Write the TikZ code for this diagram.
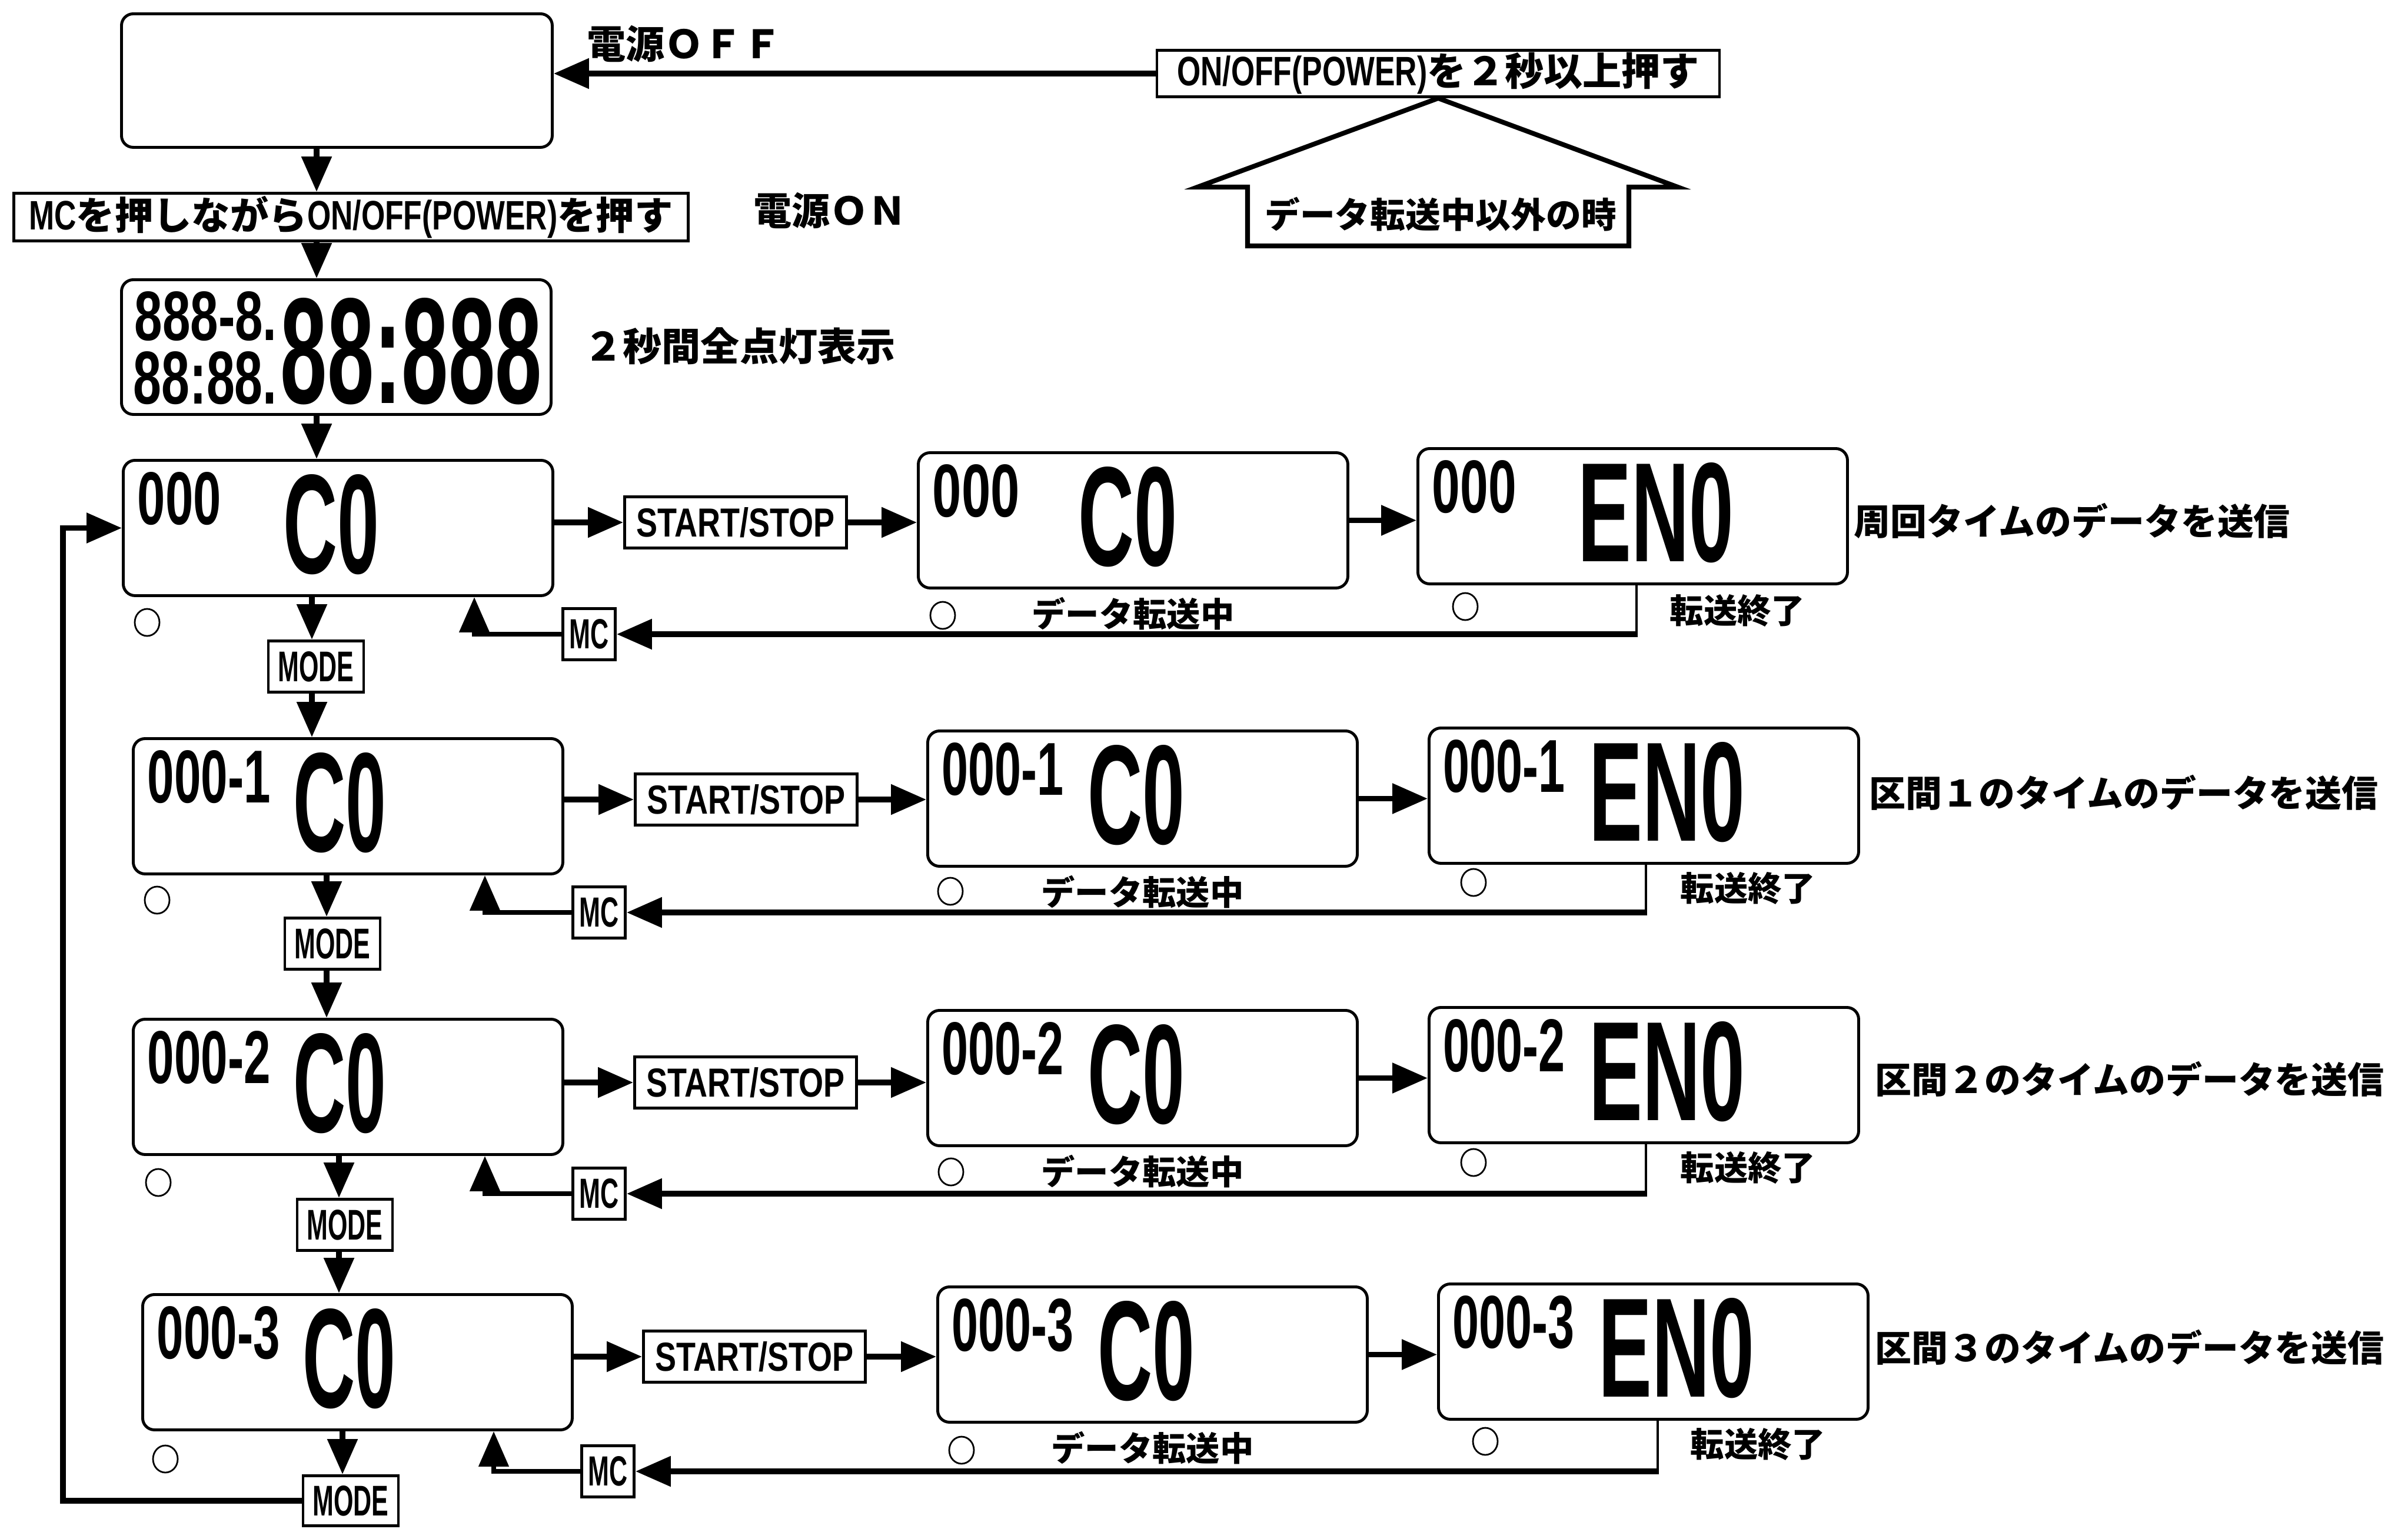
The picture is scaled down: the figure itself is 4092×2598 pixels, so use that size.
\documentclass[tikz,border=0pt]{standalone}
\usepackage{fontspec}
\usepackage{graphicx}
\usetikzlibrary{arrows.meta,shapes.geometric}
\setmainfont{Noto Sans CJK JP}
\newfontfamily\jpf{Noto Sans CJK JP}
\newfontfamily\latinf{Liberation Sans}
\newfontfamily\lcdfont{Liberation Sans}
\newcommand\hwl[1]{{\latinf\bfseries\fontsize{19.9pt}{20pt}\selectfont\scalebox{0.74}[1]{#1}}}
\newcommand\lcdtxt[3]{\resizebox{#1mm}{#2mm}{\lcdfont\bfseries #3}}
\newcommand\keytxt[3]{\resizebox{#1mm}{#2mm}{\latinf\bfseries #3}}
\newcommand\lcdfill[5]{%
  \node[anchor=north west, inner sep=0pt] (#1s) at ([shift={(26,22)}]#1.north west) {\lcdtxt{#3}{8.9}{#2}};
  \node[anchor=north west, inner sep=0pt] (#1g) at ([shift={(274,26)}]#1.north west) {\lcdtxt{#5}{16.8}{#4}};
}
\begin{document}
\begin{tikzpicture}[x=0.1mm,y=-0.1mm,
  lcdbox/.style={draw, line width=1.4pt, rounded corners=2mm, minimum width=73mm, minimum height=23mm, inner sep=0pt, anchor=north west},
  keybox/.style={draw, line width=1.4pt, inner sep=0pt},
  ssbox/.style={keybox, minimum width=37.7mm, minimum height=8.7mm},
  mcbox/.style={keybox, minimum width=8.9mm, minimum height=8.7mm},
  modebox/.style={keybox, minimum width=16.2mm, minimum height=8.7mm},
  lbl/.style={inner sep=0pt, font=\jpf\bfseries\fontsize{#1}{#1}\selectfont},
  lbl/.default=18pt,
  arr/.style={line width=2.6pt, -{Triangle[length=6mm,width=5mm]}},
  upl/.style={line width=2.3pt, -{Triangle[length=6mm,width=5mm]}},
  dropl/.style={line width=1.3pt},
  led/.style={draw, ellipse, line width=0.8pt, minimum width=4.2mm, minimum height=4.6mm, inner sep=0pt},
  house/.style={line width=2.3pt, line join=miter}
]
\fill[white] (0,0) rectangle (4092,2598);
\useasboundingbox (0,0) rectangle (4092,2598);

% ---------- top part ----------
\node[lcdbox, minimum width=73.2mm, minimum height=22.7mm] (poff) at (204,21) {};
\node[lbl=18.8pt, anchor=west] (toff) at (997,75) {電源ＯＦＦ};
\node[keybox, minimum width=95.6mm, minimum height=7.9mm, font=\jpf\bfseries\fontsize{18.8pt}{18.8pt}\selectfont] (onoff) at (2444,125) {\hwl{ON/OFF(POWER)}を２秒以上押す};
\draw[arr] (onoff.west) -- (onoff.west -| poff.east);
\draw[house] (onoff.south) -- ++(-409,151) -- ++(85,0) -- ++(0,100) -- ++(648,0) -- ++(0,-100) -- ++(83,0) -- cycle;
\node[lbl=17pt] (hlab) at (2448,364) {データ転送中以外の時};

\node[keybox, anchor=north west, minimum width=114.6mm, minimum height=8.1mm, font=\jpf\bfseries\fontsize{18.6pt}{18.6pt}\selectfont] (mcp) at (21,326) {\hwl{MC}を押しながら\hwl{ON/OFF(POWER)}を押す};
\node[lbl=18.5pt, anchor=west] (ton) at (1280,358) {電源ＯＮ};

\node[lcdbox, minimum height=22.9mm] (disp) at (204,473) {};
\node[anchor=north west, inner sep=0pt] (disp1) at (228,495) {\lcdtxt{24.2}{8.3}{888-8.}};
\node[anchor=north west, inner sep=0pt] (disp2) at (226,597) {\lcdtxt{24.4}{8.9}{88:88.}};
\node[anchor=north west, inner sep=0pt] (disp3) at (476,506) {\lcdtxt{44.4}{17.9}{88:888}};
\node[lbl=18.8pt, anchor=west] (t2s) at (992,588) {２秒間全点灯表示};

% ---------- row 1 ----------
\node[lcdbox] (r1b1) at (207,780) {};
\lcdfill{r1b1}{000}{14.2}{C0}{16.3}
\node[ssbox] (r1ss) at (1250,888) {\keytxt{33.7}{5.0}{START/STOP}};
\node[lcdbox] (r1b2) at (1558,767) {};
\lcdfill{r1b2}{000}{14.8}{C0}{16.8}
\node[lcdbox] (r1b3) at (2407,760) {};
\lcdfill{r1b3}{000}{14.3}{EN0}{26.5}
\node[mcbox] (r1mc) at (1001,1078) {\keytxt{6.7}{5.0}{MC}};
\node[modebox] (r1mode) at (537,1133) {\keytxt{12.9}{5.1}{MODE}};
\node[led] (r1l1) at (250,1058) {};
\node[led] (r1l2) at (1602,1046) {};
\node[led] (r1l3) at (2490,1031) {};
\node[lbl=16.3pt, anchor=north] (r1t2) at ([yshift=-1.3mm]r1b2.south) {データ転送中};
\node[lbl=16.3pt, anchor=north west] (r1t3) at (2837,1010) {転送終了};
\node[lbl=17.6pt, anchor=west] (r1t) at (3150,885) {周回タイムのデータを送信};
\coordinate (r1x) at (530,0);
\coordinate (r1ret) at (2781,1078);
\coordinate (r1up) at (806,1078);

% ---------- row 2 ----------
\node[lcdbox] (r2b1) at (224,1253) {};
\lcdfill{r2b1}{000-1}{20.9}{C0}{15.8}
\node[ssbox] (r2ss) at (1268,1359) {\keytxt{33.7}{5.0}{START/STOP}};
\node[lcdbox] (r2b2) at (1574,1240) {};
\lcdfill{r2b2}{000-1}{20.7}{C0}{16.5}
\node[lcdbox] (r2b3) at (2426,1235) {};
\lcdfill{r2b3}{000-1}{20.7}{EN0}{26.5}
\node[mcbox] (r2mc) at (1018,1551) {\keytxt{6.7}{5.0}{MC}};
\node[modebox] (r2mode) at (565,1604) {\keytxt{12.9}{5.1}{MODE}};
\node[led] (r2l1) at (267,1530) {};
\node[led] (r2l2) at (1615,1515) {};
\node[led] (r2l3) at (2504,1500) {};
\node[lbl=16.3pt, anchor=north] (r2t2) at ([yshift=-1.3mm]r2b2.south) {データ転送中};
\node[lbl=16.3pt, anchor=north west] (r2t3) at (2855,1482) {転送終了};
\node[lbl=17.6pt, anchor=west] (r2t) at (3176,1347) {区間１のタイムのデータを送信};
\coordinate (r2x) at (555,0);
\coordinate (r2ret) at (2797,1551);
\coordinate (r2up) at (824,1551);

% ---------- row 3 ----------
\node[lcdbox] (r3b1) at (224,1730) {};
\lcdfill{r3b1}{000-2}{20.9}{C0}{15.8}
\node[ssbox] (r3ss) at (1267,1840) {\keytxt{33.7}{5.0}{START/STOP}};
\node[lcdbox] (r3b2) at (1574,1715) {};
\lcdfill{r3b2}{000-2}{20.7}{C0}{16.5}
\node[lcdbox] (r3b3) at (2426,1710) {};
\lcdfill{r3b3}{000-2}{20.7}{EN0}{26.5}
\node[mcbox] (r3mc) at (1018,2029) {\keytxt{6.7}{5.0}{MC}};
\node[modebox] (r3mode) at (586,2082) {\keytxt{12.9}{5.1}{MODE}};
\node[led] (r3l1) at (269,2010) {};
\node[led] (r3l2) at (1616,1992) {};
\node[led] (r3l3) at (2504,1976) {};
\node[lbl=16.3pt, anchor=north] (r3t2) at ([yshift=-1.3mm]r3b2.south) {データ転送中};
\node[lbl=16.3pt, anchor=north west] (r3t3) at (2855,1957) {転送終了};
\node[lbl=17.6pt, anchor=west] (r3t) at (3186,1834) {区間２のタイムのデータを送信};
\coordinate (r3x) at (576,0);
\coordinate (r3ret) at (2797,2029);
\coordinate (r3up) at (824,2029);

% ---------- row 4 ----------
\node[lcdbox] (r4b1) at (240,2198) {};
\lcdfill{r4b1}{000-3}{20.9}{C0}{15.8}
\node[ssbox] (r4ss) at (1282,2306) {\keytxt{33.7}{5.0}{START/STOP}};
\node[lcdbox] (r4b2) at (1591,2185) {};
\lcdfill{r4b2}{000-3}{20.7}{C0}{16.5}
\node[lcdbox] (r4b3) at (2442,2180) {};
\lcdfill{r4b3}{000-3}{20.7}{EN0}{26.5}
\node[mcbox] (r4mc) at (1033,2501) {\keytxt{6.7}{5.0}{MC}};
\node[modebox, minimum height=8.5mm] (r4mode) at (596,2551) {\keytxt{12.9}{5.1}{MODE}};
\node[led] (r4l1) at (281,2480) {};
\node[led] (r4l2) at (1634,2465) {};
\node[led] (r4l3) at (2524,2450) {};
\node[lbl=16.3pt, anchor=north] (r4t2) at ([yshift=-1.3mm]r4b2.south) {データ転送中};
\node[lbl=16.3pt, anchor=north west] (r4t3) at (2872,2427) {転送終了};
\node[lbl=17.6pt, anchor=west] (r4t) at (3186,2290) {区間３のタイムのデータを送信};
\coordinate (r4x) at (582,0);
\coordinate (r4ret) at (2817,2501);
\coordinate (r4up) at (839,2501);

% ---------- connectors ----------
\coordinate (topx) at (538,0);
\draw[arr] (poff.south -| topx) -- (mcp.north -| topx);
\draw[arr] (mcp.south -| topx) -- (disp.north -| topx);
\draw[arr] (disp.south -| topx) -- (r1b1.north -| topx);

\foreach \r/\n in {1/2,2/3,3/4} {
  \draw[arr] (r\r b1.south -| r\r x) -- (r\r mode.north -| r\r x);
  \draw[arr] (r\r mode.south -| r\r x) -- (r\n b1.north -| r\r x);
}
\draw[arr] (r4b1.south -| r4x) -- (r4mode.north -| r4x);

\foreach \r in {1,2,3,4} {
  \draw[arr] (r\r b1.east |- r\r ss.west) -- (r\r ss.west);
  \draw[arr] (r\r ss.east) -- (r\r ss.east -| r\r b2.west);
  \draw[arr] (r\r b2.east) -- (r\r b2.east -| r\r b3.west);
  \draw[dropl] (r\r b3.south -| r\r ret) -- ([yshift=1.3pt]r\r ret);
  \draw[arr] ([xshift=0.65pt]r\r ret) -- (r\r mc.east);
  \draw[upl] (r\r mc.west) -- (r\r up) -- (r\r up |- r\r b1.south);
}

\coordinate (loopx) at (107,0);
\draw[arr] (r4mode.west) -- (r4mode.west -| loopx) -- (loopx |- r1b1.west) -- (r1b1.west);
\end{tikzpicture}
\end{document}
